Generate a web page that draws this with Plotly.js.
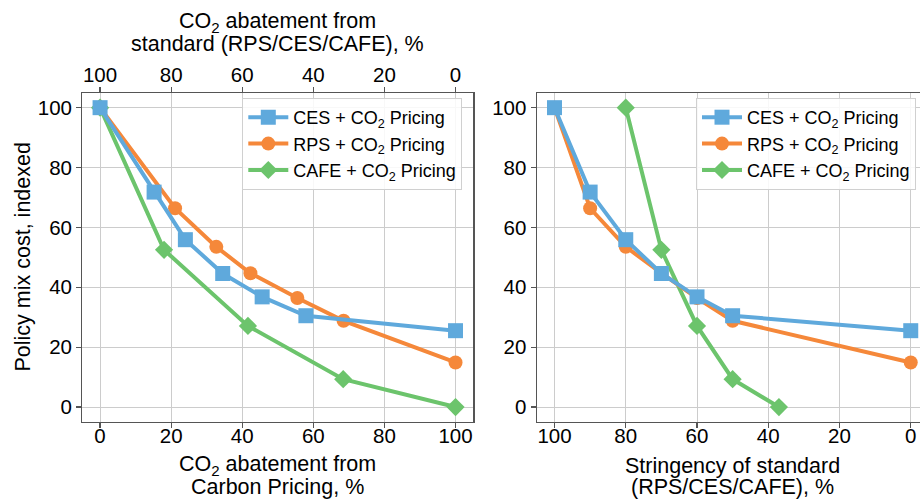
<!DOCTYPE html>
<html>
<head>
<meta charset="utf-8">
<script src="https://cdn.plot.ly/plotly-3.0.1.min.js"></script>
<style>html,body{margin:0;padding:0;background:#fff;overflow:hidden}</style>
</head>
<body>
<div id="chart" style="width:920px;height:500px"></div>
<script>
// ---- data ----
const cesCarbonPricing = [0, 15.2, 24.0, 34.5, 45.6, 57.9, 100];
const cesStringency    = [100, 90, 80, 70, 60, 50, 0];
const cesCost          = [100, 71.8, 55.9, 44.6, 36.8, 30.5, 25.5];

const rpsCarbonPricing = [0, 21.1, 32.7, 42.3, 55.5, 68.5, 100];
const rpsStringency    = [100, 90, 80, 70, 60, 50, 0];
const rpsCost          = [100, 66.4, 53.5, 44.7, 36.4, 28.8, 14.9];

const cafeCarbonPricing = [0, 18.0, 41.6, 68.4, 100];
const cafeStringency    = [80, 70, 60, 50, 37];
const cafeCost          = [100, 52.5, 27.1, 9.3, 0];

const seriesNames = ['CES + CO<sub>2</sub> Pricing', 'RPS + CO<sub>2</sub> Pricing', 'CAFE + CO<sub>2</sub> Pricing'];
const tickValues = [0, 20, 40, 60, 80, 100];

// ---- styling ----
const FONT = 'Arial, "Liberation Sans", sans-serif';
const C_CES = '#5fa9dc', C_RPS = '#f5883a', C_CAFE = '#6cc46c';
const W = 920, H = 500;
const px = p => p / W, py = p => 1 - p / H;

function mk(name, x, y, color, symbol, size, xa, ya, leg, rank) {
  return {
    type: 'scatter', mode: 'lines+markers', name: name, x: x, y: y,
    xaxis: xa, yaxis: ya, legend: leg, legendrank: rank,
    line: {color: color, width: 4},
    marker: {color: color, symbol: symbol, size: size},
    cliponaxis: false
  };
}

const traces = [
  mk(seriesNames[2], cafeCarbonPricing, cafeCost, C_CAFE, 'diamond', 14, 'x', 'y', 'legend', 3),
  mk(seriesNames[1], rpsCarbonPricing, rpsCost, C_RPS, 'circle', 14, 'x', 'y', 'legend', 2),
  mk(seriesNames[0], cesCarbonPricing, cesCost, C_CES, 'square', 15, 'x', 'y', 'legend', 1),
  mk(seriesNames[2], cafeStringency, cafeCost, C_CAFE, 'diamond', 14, 'x2', 'y2', 'legend2', 3),
  mk(seriesNames[1], rpsStringency, rpsCost, C_RPS, 'circle', 14, 'x2', 'y2', 'legend2', 2),
  mk(seriesNames[0], cesStringency, cesCost, C_CES, 'square', 15, 'x2', 'y2', 'legend2', 1)
];

const frame = '#555';
const grid = '#cccccc';
const tickFont = {family: FONT, size: 20.5, color: '#000'};
function axisBase(extra) {
  return Object.assign({
    showgrid: true, gridcolor: grid, gridwidth: 1, zeroline: false,
    showline: true, linecolor: frame, linewidth: 1.2,
    ticks: 'outside', ticklen: 5, tickwidth: 1.2, tickcolor: frame,
    tickfont: tickFont, tickvals: tickValues, autorange: false, fixedrange: true
  }, extra);
}

const yDom = [py(422), py(92.7)];
const legendStyle = {
  bgcolor: 'rgba(255,255,255,0.85)', bordercolor: '#d0d0d0', borderwidth: 1,
  font: {family: FONT, size: 18, color: '#000'},
  xanchor: 'left', yanchor: 'top', itemwidth: 40, traceorder: 'normal'
};

const titleFont = {family: FONT, size: 21.5, color: '#000'};
function ann(text, x, y, angle) {
  return {text: text, x: px(x), y: py(y), xref: 'paper', yref: 'paper',
          xanchor: 'center', yanchor: 'middle', showarrow: false,
          textangle: angle || 0, font: titleFont};
}

const layout = {
  width: W, height: H,
  margin: {l: 0, r: 0, t: 0, b: 0},
  paper_bgcolor: '#fff', plot_bgcolor: '#fff',
  font: {family: FONT, color: '#000'},
  showlegend: true,
  xaxis: axisBase({domain: [px(82.3), px(473.3)], range: [-5, 105], anchor: 'y', mirror: true, ticklabelstandoff: -10}),
  yaxis: axisBase({domain: yDom, range: [-5, 105], anchor: 'x', mirror: true}),
  xaxis3: axisBase({overlaying: 'x', side: 'top', anchor: 'y', range: [105, -5], showgrid: false, showline: false, ticklabelstandoff: -3}),
  xaxis2: axisBase({domain: [px(536.7), 1], range: [105, -2.6], anchor: 'y2', mirror: true, ticklabelstandoff: -10}),
  yaxis2: axisBase({domain: yDom, range: [-5, 105], anchor: 'x2', mirror: false}),
  legend: Object.assign({x: px(242.3), y: py(98)}, legendStyle),
  legend2: Object.assign({x: px(696), y: py(98)}, legendStyle),
  annotations: [
    ann('CO<sub>2</sub> abatement from', 277.5, 22),
    ann('standard (RPS/CES/CAFE), %', 277.5, 44.5),
    ann('CO<sub>2</sub> abatement from', 277.8, 465.5),
    ann('Carbon Pricing, %', 277.8, 487),
    ann('Stringency of standard', 732.5, 465.5),
    ann('(RPS/CES/CAFE), %', 732.5, 487),
    ann('Policy mix cost, indexed', 22, 257.5, -90)
  ]
};

// dummy trace to activate the top axis
traces.push({type: 'scatter', x: [], y: [], xaxis: 'x3', yaxis: 'y', showlegend: false, hoverinfo: 'skip'});

Plotly.newPlot('chart', traces, layout, {displayModeBar: false, staticPlot: true});
</script>
</body>
</html>
